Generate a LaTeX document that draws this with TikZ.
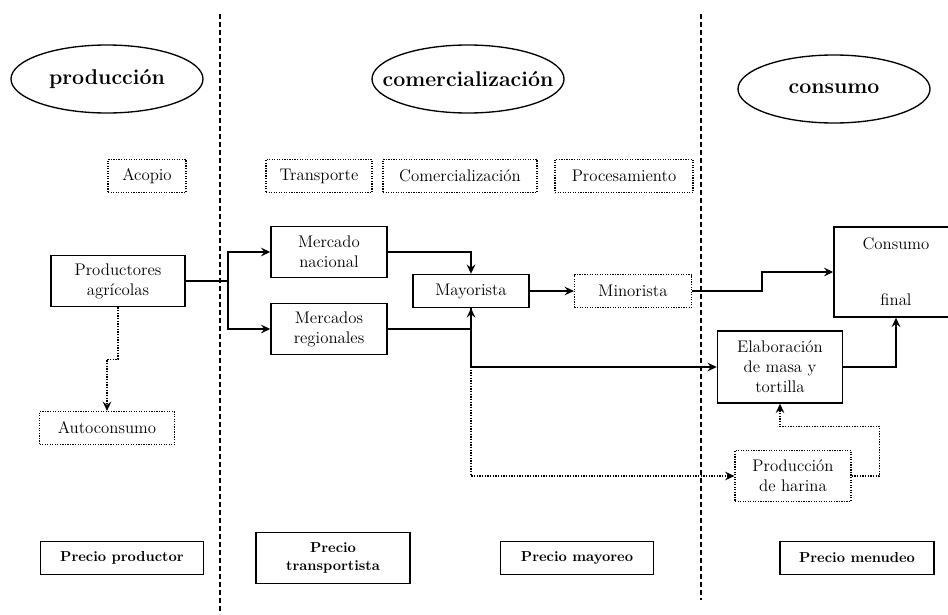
\documentclass[tikz,border=0pt]{standalone}
\usepackage{tikz}
\usetikzlibrary{shapes.geometric, arrows.meta, positioning, calc}

\begin{document}
\begin{tikzpicture}[
    x=0.75pt, y=-0.75pt,
    font=\fontsize{12.6}{15}\selectfont,
    stage/.style={ellipse, draw, line width=1pt, minimum width=144pt, minimum height=51pt, inner sep=0pt},
    stagetext/.style={font=\fontsize{16}{19}\selectfont\bfseries},
    activity/.style={rectangle, draw, densely dotted, line width=0.9pt, minimum height=24.75pt, inner sep=2pt, align=center},
    agent/.style={rectangle, draw, line width=1.1pt, align=center, minimum height=38.25pt, inner sep=2pt},
    price/.style={rectangle, draw, line width=1.1pt, align=center, minimum height=24.75pt, inner sep=2pt,
                  font=\fontsize{10.8}{13.5}\selectfont\bfseries},
    flow/.style={-{Stealth[length=7pt,width=6.5pt,inset=2.5pt]}, line width=1pt},
    sideflow/.style={flow, densely dotted},
    divider/.style={dash pattern=on 4pt off 2pt, line width=0.9pt}
]
    \useasboundingbox (0,0) rectangle (948,614);

    \draw[divider] (220,14) -- (220,614);
    \draw[divider] (701,14) -- (701,600);

    \node[stage, label={[stagetext]center:producción}] (prod) at (107,79) {};
    \node[stage, label={[stagetext]center:comercialización}] (comer) at (468,79) {};
    \node[stage, label={[stagetext]center:consumo}] (cons) at (834,89) {};

    \node[activity, minimum width=58.5pt] (acopio) at (147,176) {Acopio};
    \node[activity, minimum width=79.5pt] (transp) at (319,176) {Transporte};
    \node[activity, minimum width=115.5pt] (comact) at (460,176) {Comercialización};
    \node[activity, minimum width=103.5pt] (proces) at (624,176) {Procesamiento};

    \node[agent, minimum width=100.5pt] (prodagr) at (118,281) {Productores\\agrícolas};
    \node[agent, minimum width=87pt] (mnac) at (329,252) {Mercado\\nacional};
    \node[agent, minimum width=87pt] (mreg) at (329,329) {Mercados\\regionales};
    \node[agent, minimum width=87pt, minimum height=24.75pt] (mayor) at (471,291) {Mayorista};
    \node[activity, minimum width=87.75pt] (minor) at (633,291) {Minorista};
    \node[agent, minimum width=93pt, minimum height=67.5pt] (cfinal) at (896,272) {Consumo\\[27pt]final};
    \node[agent, minimum width=93.75pt, minimum height=54pt] (elab) at (780,367) {Elaboración\\de masa y\\tortilla};
    \node[activity, minimum width=87pt, minimum height=38.25pt] (harina) at (793,476) {Producción\\de harina};
    \node[activity, minimum width=101.25pt] (autoc) at (107,428) {Autoconsumo};

    \node[price, minimum width=122.25pt] (pprod) at (122,558) {Precio productor};
    \node[price, minimum width=115.5pt, minimum height=38.25pt] (ptrans) at (333,558) {Precio\\transportista};
    \node[price, minimum width=114.75pt] (pmay) at (577,558) {Precio mayoreo};
    \node[price, minimum width=115.5pt] (pmen) at (857,558) {Precio menudeo};

    \coordinate (split) at (228,281);
    \draw[line width=1pt] (prodagr.east) -- (split);
    \draw[flow] (split) |- (mnac.west);
    \draw[flow] (split) |- (mreg.west);
    \draw[flow] (mnac.east) -| (mayor.north);
    \draw[flow] (mreg.east) -| (mayor.south);
    \coordinate (fork) at (mayor.south |- elab.west);
    \draw[flow] (mayor.south) |- (elab.west);
    \draw[sideflow] (fork) |- (harina.west);
    \draw[flow] (mayor.east) -- (minor.west);
    \draw[flow] (minor.east) -- ++(70,0) |- (cfinal.west);
    \draw[flow] (elab.east) -| (cfinal.south);
    \draw[sideflow] (harina.east) -- ++(28,0) |- ($(elab.south)+(0,23)$) -- (elab.south);
    \draw[sideflow] (prodagr.south) -- ++(0,52) -| (autoc.north);
\end{tikzpicture}
\end{document}
